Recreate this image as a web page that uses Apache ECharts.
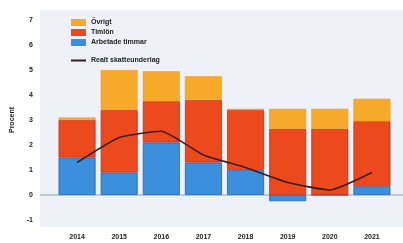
<!DOCTYPE html>
<html>
<head>
<meta charset="utf-8">
<script src="https://cdn.jsdelivr.net/npm/echarts@6/dist/echarts.min.js"></script>
<style>
  html, body { margin: 0; padding: 0; background: #fff; }
  #chart { width: 403px; height: 243px; }
</style>
</head>
<body>
<div id="chart"></div>
<script>
const years = ['2014', '2015', '2016', '2017', '2018', '2019', '2020', '2021'];
const arbetadeTimmar = [1.5, 0.9, 2.1, 1.3, 1.0, -0.25, 0, 0.35];
const timlon = [1.5, 2.5, 1.65, 2.5, 2.4, 2.65, 2.65, 2.6];
const ovrigt = [0.1, 1.6, 1.2, 0.95, 0.05, 0.8, 0.8, 0.9];
const realtSkatteunderlag = [1.3, 2.3, 2.55, 1.6, 1.1, 0.5, 0.2, 0.9];
const yTicks = { min: -1, max: 7, step: 1 };

const font = 'Liberation Sans, Arial, sans-serif';
const chart = echarts.init(document.getElementById('chart'));

const legendText = { fontSize: 7, color: '#222', fontWeight: 'bold' };

const option = {
  animation: false,
  backgroundColor: '#fff',
  textStyle: { fontFamily: font },
  grid: { left: 56, right: 10, top: 20, bottom: 23 },
  legend: [
    {
      orient: 'vertical',
      left: 66,
      top: 14,
      itemWidth: 15,
      itemHeight: 7,
      itemGap: 3,
      itemStyle: { borderWidth: 0 },
      textStyle: legendText,
      data: [
        { name: 'Övrigt', icon: 'rect' },
        { name: 'Timlön', icon: 'rect' },
        { name: 'Arbetade timmar', icon: 'rect' }
      ]
    },
    {
      orient: 'vertical',
      left: 66,
      top: 52,
      itemWidth: 15,
      itemHeight: 7,
      textStyle: legendText,
      data: [{ name: 'Realt skatteunderlag', icon: 'path://M0,0L15,0L15,2L0,2Z' }]
    }
  ],
  xAxis: {
    type: 'category',
    data: years,
    axisLine: { show: false },
    axisTick: { show: false },
    axisLabel: { fontSize: 7, color: '#222', fontWeight: 'bold', margin: 14 }
  },
  yAxis: {
    type: 'value',
    min: yTicks.min,
    max: yTicks.max,
    interval: yTicks.step,
    name: 'Procent',
    nameLocation: 'middle',
    nameGap: 38,
    nameTextStyle: { fontSize: 7, color: '#222', fontWeight: 'bold' },
    splitLine: { show: false },
    axisLine: { show: false },
    axisTick: { show: false },
    axisLabel: { fontSize: 7, color: '#222', fontWeight: 'bold', margin: 23 }
  },
  series: [
    {
      name: 'Arbetade timmar', type: 'bar', stack: 'tot', barWidth: 37,
      itemStyle: { color: '#3c8fdc', borderColor: '#2a5fb0', borderWidth: 0.8 },
      data: arbetadeTimmar
    },
    {
      name: 'Timlön', type: 'bar', stack: 'tot', barWidth: 37,
      itemStyle: { color: '#ec4a1c', borderColor: '#c0301a', borderWidth: 0.8 },
      data: timlon
    },
    {
      name: 'Övrigt', type: 'bar', stack: 'tot', barWidth: 37,
      itemStyle: { color: '#f7a92a', borderColor: '#f09a20', borderWidth: 0.5 },
      data: ovrigt
    },
    {
      name: 'Realt skatteunderlag', type: 'line', smooth: 0.15,
      symbol: 'none', z: 5,
      lineStyle: { color: '#3a1c1c', width: 1.6 },
      itemStyle: { color: '#3a1c1c' },
      data: realtSkatteunderlag
    }
  ]
};
chart.setOption(option);

const y0 = chart.convertToPixel({ yAxisIndex: 0 }, 0);
chart.setOption({
  graphic: [
    {
      type: 'rect', z: -10, silent: true,
      shape: { x: 40, y: 10, width: 363, height: 217 },
      style: { fill: '#eef1f7' }
    },
    {
      type: 'line', z: -5, silent: true,
      shape: { x1: 40, y1: y0, x2: 403, y2: y0 },
      style: { stroke: '#8aa6a8', lineWidth: 1 }
    }
  ]
});
</script>
</body>
</html>
